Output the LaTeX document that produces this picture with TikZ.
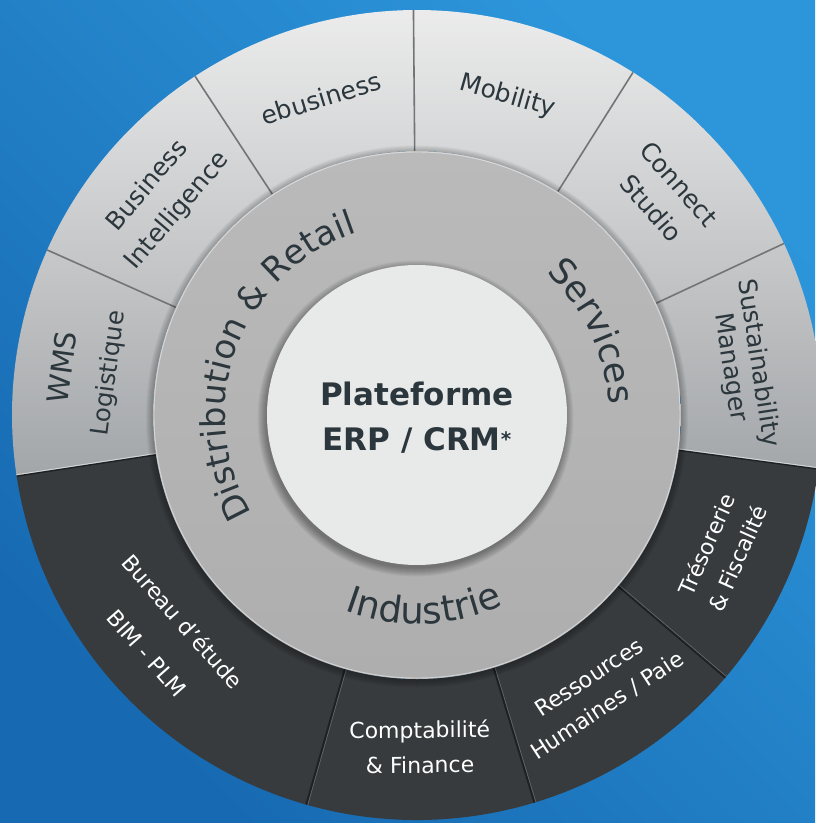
\documentclass[tikz,border=0pt]{standalone}
\usepackage{fontspec}
\setmainfont{DejaVu Sans}
\usetikzlibrary{decorations.text}
\definecolor{bgdark}{HTML}{176AB2}
\definecolor{bglight}{HTML}{2D96DB}
\definecolor{graytop}{HTML}{EEEEEE}
\definecolor{graymid}{HTML}{D0D1D2}
\definecolor{graybot}{HTML}{A3A6A9}
\definecolor{darkseg}{HTML}{373B3E}
\definecolor{ringtop}{HTML}{BABABA}
\definecolor{ringbot}{HTML}{AEAEAE}
\definecolor{corelight}{HTML}{E8E9E9}
\definecolor{txtdark}{HTML}{2B373D}
\definecolor{divgray}{HTML}{727476}
\definecolor{divdark}{HTML}{1E2123}
\definecolor{divlight}{HTML}{62666A}
\newcommand\ringA{\fontsize{34}{40}\selectfont}
\newcommand\ringB{\fontsize{35.5}{40}\selectfont}
\newcommand\ringC{\fontsize{37}{40}\selectfont}
\tikzset{
  glabel/.style={text=txtdark, align=center, inner sep=0pt, font=\fontsize{25}{37}\selectfont},
  dlabel/.style={text=white, align=center, inner sep=0pt, font=\fontsize{22}{34}\selectfont},
}
\begin{document}
\begin{tikzpicture}[x=1pt,y=1pt]
\useasboundingbox (-417,-408) rectangle (398,415);
% background
\shade[top color=bglight, bottom color=bgdark, shading angle=-45] (-417,-408) rectangle (398,415);
% outer gray sectors
\shade[top color=graytop, middle color=graymid, bottom color=graybot]
  (-7.68:264pt) -- (-7.68:405pt) arc[start angle=-7.68, end angle=188.68, radius=405pt]
  -- (188.68:264pt) arc[start angle=188.68, end angle=-7.68, radius=264pt] -- cycle;
% outer dark sectors
\fill[darkseg]
  (188.68:264pt) -- (188.68:405pt) arc[start angle=188.68, end angle=352.32, radius=405pt]
  -- (352.32:264pt) arc[start angle=352.32, end angle=188.68, radius=264pt] -- cycle;
% gray dividers
\foreach \a in {90.5,123.23,155.95,25.05,57.77}{
  \draw[divgray, line width=1.6pt] (\a:264pt) -- (\a:405pt);
}
% dark dividers
\foreach \a in {254.14,286.86,319.59}{
  \draw[divdark, line width=2pt] (\a:264pt) -- (\a:405pt);
  \draw[divlight, line width=0.7pt, shift={(\a+90:1.5pt)}] (\a:264pt) -- (\a:405pt);
}
% gray/dark boundaries
\draw[divdark, line width=1.4pt] (188.68:264pt) -- (188.68:405pt);
\draw[white, opacity=0.55, line width=0.8pt, shift={(98.68:1.4pt)}] (188.68:264pt) -- (188.68:405pt);
\draw[divdark, line width=1.4pt] (352.32:264pt) -- (352.32:405pt);
\draw[white, opacity=0.55, line width=0.8pt, shift={(82.32:1.4pt)}] (352.32:264pt) -- (352.32:405pt);
% shadow of middle ring
\foreach \i in {1,...,7}{
  \pgfmathsetmacro\rr{264+\i}
  \fill[black, opacity=0.04] (0,-1.5) circle[radius=\rr pt];
}
% middle ring
\shade[top color=ringtop, bottom color=ringbot] (0,0) circle[radius=264pt];
\draw[white, opacity=0.45, line width=0.9pt] (0,0) circle[radius=263pt];
% shadow of core
\foreach \i in {1,...,9}{
  \pgfmathsetmacro\rr{149+\i}
  \fill[black, opacity=0.045] (-1.5,-3.5) circle[radius=\rr pt];
}
% core
\fill[corelight] (0,0) circle[radius=150pt];
\node[text=txtdark, align=center, inner sep=0pt, font=\bfseries\fontsize{31}{45}\selectfont] (core) at (0,-3)
  {Plateforme\\ERP / CRM{\fontsize{20}{20}\selectfont\raisebox{4pt}{*}}};
% curved ring texts
\path[decorate, decoration={text along path, text align=center, text color=txtdark,
  text={|\ringA|Distribution {\&} Retail}}]
  (219.5:192pt) arc[start angle=219.5, end angle=99.5, radius=192pt];
\path[decorate, decoration={text along path, text align=center, text color=txtdark,
  text={|\ringB|Services}}]
  (75.45:192pt) arc[start angle=75.45, end angle=-24.55, radius=192pt];
\path[decorate, decoration={text along path, text align=center, text color=txtdark,
  text={|\ringC|Industrie}}]
  (212:209pt) arc[start angle=212, end angle=332, radius=209pt];
% gray labels
\node[glabel, rotate=16.86] (ebiz) at (106.86:331pt) {ebusiness};
\node[glabel, rotate=-15.86] (mob) at (74.14:331pt) {Mobility};
\node[glabel, rotate=49.59, font=\fontsize{25}{39}\selectfont] (bi) at (139.59:334pt) {Business\\Intelligence};
\node[glabel, rotate=82.32, font=\fontsize{24.5}{44}\selectfont] (wms) at (172.32:334pt) {{\fontsize{29}{44}\selectfont WMS}\\Logistique};
\node[glabel, rotate=-48.59] (cs) at (41.41:331pt) {Connect\\Studio};
\node[glabel, rotate=-81.32, font=\fontsize{25}{28}\selectfont] (sm) at (8.68:331pt) {Sustainability\\Manager};
% dark labels
\node[dlabel, rotate=-48.59, font=\fontsize{22}{48}\selectfont] (be) at (221.41:336pt) {Bureau d'étude\\BIM - PLM};
\node[dlabel, rotate=0.5, font=\fontsize{22}{35}\selectfont] (cf) at (270.5:332pt) {Comptabilité\\\& Finance};
\node[dlabel, rotate=33.23, font=\fontsize{22}{33}\selectfont] (rh) at (303.23:331pt) {Ressources\\Humaines / Paie};
\node[dlabel, rotate=65.95, font=\fontsize{22}{34}\selectfont] (tf) at (335.95:334pt) {Trésorerie\\\& Fiscalité};
\end{tikzpicture}
\end{document}
